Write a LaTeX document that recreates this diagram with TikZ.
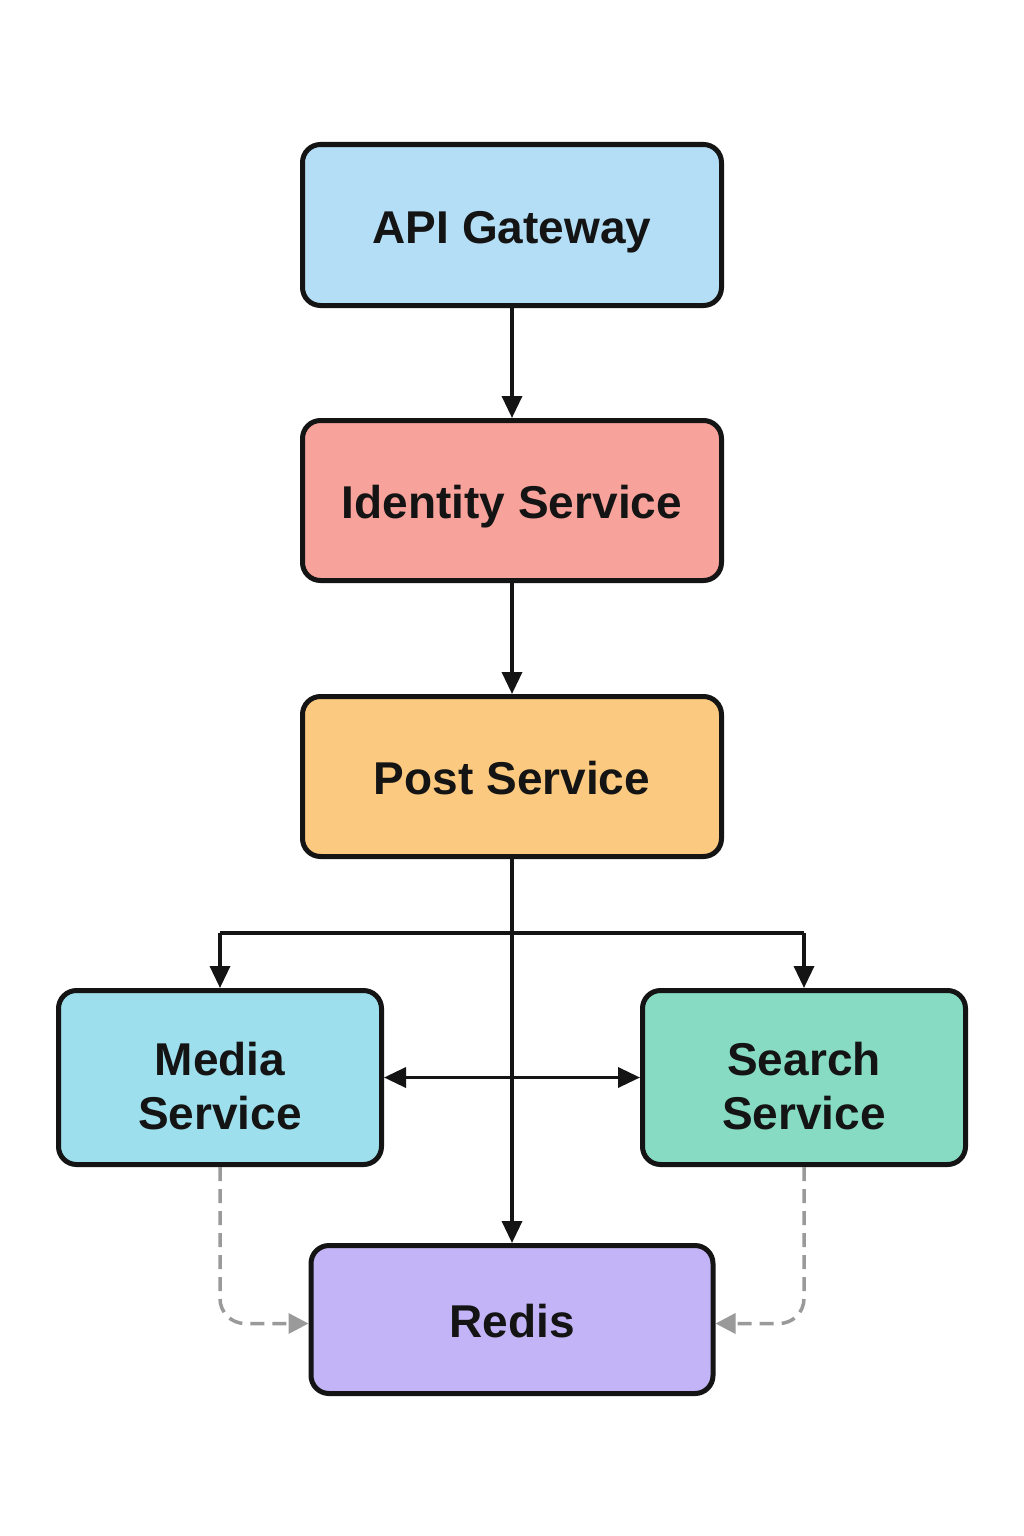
\documentclass[tikz,border=0pt]{standalone}
\usepackage{fontspec}
\setmainfont{Liberation Sans}
\usetikzlibrary{arrows.meta}
\definecolor{cApi}{HTML}{B3DEF6}
\definecolor{cId}{HTML}{F7A29B}
\definecolor{cPost}{HTML}{FBC97F}
\definecolor{cMedia}{HTML}{9DDFED}
\definecolor{cSearch}{HTML}{86DBC2}
\definecolor{cRedis}{HTML}{C2B4F6}
\definecolor{cLine}{HTML}{141414}
\definecolor{cDash}{HTML}{9A9A9A}
\tikzset{
  boxbase/.style={draw=cLine, line width=5pt, rounded corners=18pt, align=center,
    text=cLine, font=\fontsize{46}{54}\selectfont\bfseries, inner sep=0pt},
  box/.style={boxbase, execute at begin node={\rule[-10pt]{0pt}{56pt}}},
  boxtwo/.style={boxbase, text height=103pt, text depth=0pt},
  arr/.style={draw=cLine, line width=3.5pt, -{Triangle[length=22pt,width=20pt]}},
  arrboth/.style={draw=cLine, line width=3.5pt, {Triangle[length=22pt,width=20pt]}-{Triangle[length=22pt,width=20pt]}},
  plain/.style={draw=cLine, line width=3.5pt},
  dasharr/.style={draw=cDash, line width=3.5pt, dash pattern=on 14pt off 8pt,
    rounded corners=25pt, -{Triangle[length=20pt,width=20pt]}},
}
\begin{document}
\begin{tikzpicture}[x=1pt,y=-1pt]
\useasboundingbox[fill=white] (0,0) rectangle (1024,1536);
\node[box, fill=cApi, minimum width=419pt, minimum height=161pt] (api) at (512,225) {API Gateway};
\node[box, fill=cId, minimum width=419pt, minimum height=160pt] (id) at (512,500.5) {Identity Service};
\node[box, fill=cPost, minimum width=419pt, minimum height=160pt] (post) at (512,776.5) {Post Service};
\node[boxtwo, fill=cMedia, minimum width=323pt, minimum height=174pt] (media) at (220,1077.5) {Media\\Service};
\node[boxtwo, fill=cSearch, minimum width=323pt, minimum height=174pt] (search) at (804,1077.5) {Search\\Service};
\node[box, fill=cRedis, minimum width=402pt, minimum height=148pt] (redis) at (512,1319.5) {Redis};

\coordinate (br) at (512,933);
\draw[arr] (api) -- (id);
\draw[arr] (id) -- (post);
\draw[plain] (br) -- (220,933) coordinate (bl) -- (804,933) coordinate (brr);
\draw[arr] (bl) -- (media.north);
\draw[arr] (brr) -- (search.north);
\draw[arrboth] (media.east) -- (search.west);
\draw[arr] (post.south) -- (redis.north);
\draw[dasharr] (media.south) |- ([yshift=-4pt]redis.west);
\draw[dasharr] (search.south) |- ([yshift=-4pt]redis.east);
\end{tikzpicture}
\end{document}
